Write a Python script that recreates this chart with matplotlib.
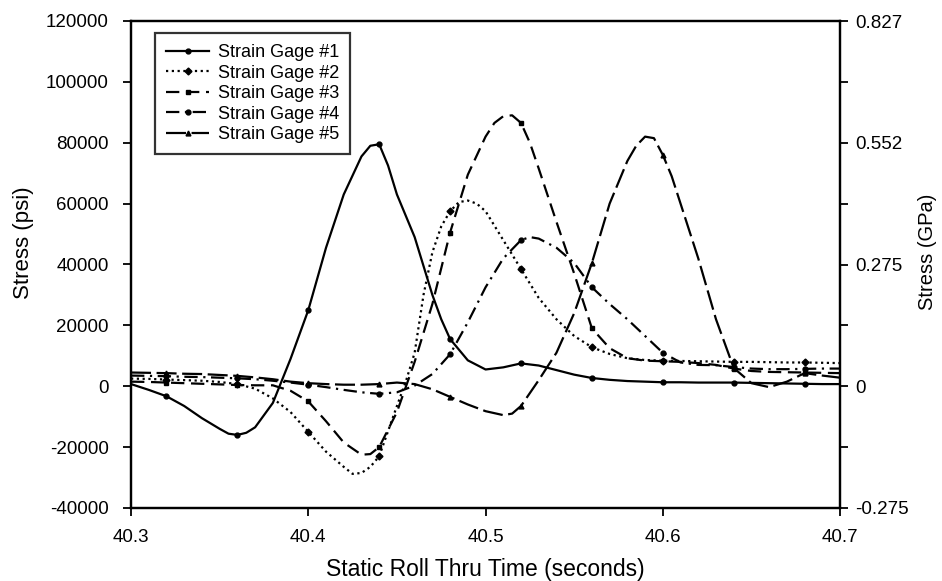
import matplotlib
matplotlib.use("Agg")
import matplotlib.pyplot as plt
from matplotlib.ticker import FixedLocator

plt.rcParams['font.family'] = ['Liberation Sans', 'DejaVu Sans']

time_s = [40.30, 40.31, 40.32, 40.33, 40.34, 40.35, 40.36, 40.37, 40.38, 40.39,
          40.40, 40.41, 40.42, 40.43, 40.44, 40.45, 40.46, 40.47, 40.48, 40.49,
          40.50, 40.51, 40.52, 40.53, 40.54, 40.55, 40.56, 40.57, 40.58, 40.59,
          40.60, 40.61, 40.62, 40.63, 40.64, 40.65, 40.66, 40.67, 40.68, 40.69,
          40.70]

gage1 = [700, -1200, -3300, -6500, -10500, -14000, -16000, -13500, -5500, 9000,
         25000, 45500, 63000, 75500, 79500, 63000, 49000, 30000, 15500, 8500,
         5500, 6200, 7500, 6800, 5300, 3800, 2700, 2100, 1700, 1500,
         1300, 1300, 1200, 1200, 1200, 1100, 1000, 900, 800, 700,
         700]
gage1_extra_t = [40.355, 40.365, 40.435, 40.445, 40.475]
gage1_extra_v = [-15600, -15300, 79000, 72500, 22000]

gage2 = [2500, 2400, 2200, 2000, 1800, 1400, 700, -800, -4000, -8500,
         -15000, -21500, -26500, -28500, -23000, -6500, 11000, 44000, 57500, 61000,
         57500, 48000, 38500, 29000, 22000, 16500, 12800, 10600, 9200, 8600,
         8400, 8300, 8200, 8100, 8000, 8000, 7900, 7800, 7800, 7700,
         7600]
gage2_extra_t = [40.425, 40.435, 40.455, 40.465, 40.475, 40.485, 40.495]
gage2_extra_v = [-28800, -26500, 1500, 30000, 52500, 60500, 60000]

gage3 = [1500, 1400, 1200, 1000, 800, 600, 400, 300, 300, -1500,
         -5000, -11500, -18500, -22500, -20000, -8500, 8000, 27000, 50500, 69500,
         82000, 88700, 86500, 71500, 54000, 37000, 19000, 12500, 9200, 8400,
         8200, 8000, 7600, 7000, 5800, 5000, 4700, 4600, 4500, 4400,
         4300]
gage3_extra_t = [40.435, 40.505, 40.515, 40.525]
gage3_extra_v = [-22300, 86500, 89000, 80000]

gage4 = [3500, 3400, 3300, 3100, 3000, 2800, 2600, 2300, 1800, 1200,
         500, -300, -1200, -2000, -2500, -2000, 200, 4000, 10500, 21000,
         32500, 42000, 48000, 48500, 45500, 40500, 32500, 27000, 22000, 16500,
         11000, 7800, 7000, 6900, 6300, 5800, 5600, 5600, 5700, 5800,
         5800]
gage4_extra_t = [40.525]
gage4_extra_v = [49000]

gage5 = [4500, 4400, 4300, 4100, 4000, 3700, 3400, 2900, 2300, 1500,
         1000, 700, 500, 500, 700, 1200, 700, -1000, -3500, -6000,
         -8200, -9500, -6500, 2000, 11000, 24000, 40500, 60000, 74000, 82000,
         76000, 60000, 42000, 22000, 6000, 1000, -300, 1500, 4300, 3500,
         2800]
gage5_extra_t = [40.515, 40.585, 40.595, 40.605]
gage5_extra_v = [-9000, 79000, 81500, 69000]

labels = ["Strain Gage #1", "Strain Gage #2", "Strain Gage #3",
          "Strain Gage #4", "Strain Gage #5"]

x_ticks = [40.3, 40.4, 40.5, 40.6, 40.7]
psi_ticks = [-40000, -20000, 0, 20000, 40000, 60000, 80000, 100000, 120000]
gpa_ticks = [-0.275, 0, 0.275, 0.552, 0.827]
gpa_labels = ["-0.275", "0", "0.275", "0.552", "0.827"]
gpa_minor = [-0.1379, 0.1379, 0.4137, 0.6895]
PSI_TO_GPA = 6.894757e-6

fig = plt.figure(figsize=(9.42, 5.81), dpi=100)
ax = fig.add_axes([0.1391, 0.1257, 0.7527, 0.8382])

lw = 1.6
styles = [
    dict(linestyle='-', marker='o'),
    dict(linestyle=(0, (1.0, 1.6)), marker='D'),
    dict(linestyle=(0, (6, 3)), marker='s'),
    dict(linestyle=(0, (6, 2.5, 1, 2.5)), marker='o'),
    dict(linestyle=(0, (9, 2.5)), marker='^'),
]
series = [(gage1, gage1_extra_t, gage1_extra_v),
          (gage2, gage2_extra_t, gage2_extra_v),
          (gage3, gage3_extra_t, gage3_extra_v),
          (gage4, gage4_extra_t, gage4_extra_v),
          (gage5, gage5_extra_t, gage5_extra_v)]
marker_times = {40.32, 40.36, 40.40, 40.44, 40.48, 40.52, 40.56, 40.60, 40.64, 40.68}
for (vals, et, ev), st, lab in zip(series, styles, labels):
    pts = sorted(list(zip(time_s, vals)) + list(zip(et, ev)))
    xs = [p[0] for p in pts]
    ys = [p[1] for p in pts]
    mk = [i for i, x in enumerate(xs) if round(x, 3) in marker_times]
    ax.plot(xs, ys, color='black', linewidth=lw, markersize=3.5,
            markevery=mk, label=lab, **st)

ax.set_xlim(40.3, 40.7)
ax.set_ylim(-40000, 120000)
ax.xaxis.set_major_locator(FixedLocator(x_ticks))
ax.yaxis.set_major_locator(FixedLocator(psi_ticks))
ax.set_xticklabels([f"{t:.1f}" for t in x_ticks])
ax.set_yticklabels([f"{t:d}" for t in psi_ticks])
ax.tick_params(axis='both', direction='out', length=6, width=1.3,
               labelsize=13.5, colors='black', pad=10)
ax.tick_params(axis='x', pad=9)
for sp in ax.spines.values():
    sp.set_linewidth(1.6)

ax.set_xlabel("Static Roll Thru Time (seconds)", fontsize=16.5, labelpad=9)
ax.set_ylabel("Stress (psi)", fontsize=16)
ax.yaxis.set_label_coords(-0.152, 0.545)
ax.yaxis.label.set_va('center')
ax.yaxis.label.set_ha('center')

ax2 = ax.twinx()
ax2.set_ylim(-40000 * PSI_TO_GPA, 120000 * PSI_TO_GPA)
ax2.yaxis.set_major_locator(FixedLocator(gpa_ticks))
ax2.yaxis.set_minor_locator(FixedLocator(gpa_minor))
ax2.set_yticklabels(gpa_labels)
ax2.tick_params(axis='y', which='both', direction='out', length=6, width=1.3,
                labelsize=13.5, colors='black', pad=5)
ax2.set_ylabel("Stress (GPa)", fontsize=14.5)
ax2.yaxis.set_label_coords(1.124, 0.525)
ax2.yaxis.label.set_va('center')
ax2.yaxis.label.set_ha('center')
for sp in ax2.spines.values():
    sp.set_linewidth(1.6)

leg = ax.legend(loc='upper left', bbox_to_anchor=(0.034, 0.975),
                fontsize=13, frameon=True, fancybox=False, edgecolor='black',
                handlelength=2.4, handletextpad=0.5, labelspacing=0.2,
                borderpad=0.6, borderaxespad=0)
leg.get_frame().set_linewidth(1.6)

fig.savefig("out.png", dpi=100)
